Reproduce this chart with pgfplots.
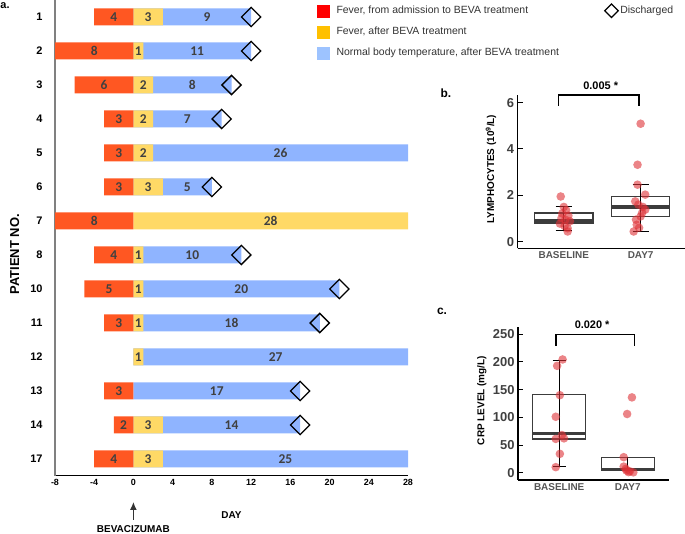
\documentclass[border=0pt]{standalone}
\usepackage{fontspec}
\setmainfont{Liberation Sans}
\newfontfamily\calibri{Carlito}
\usepackage{pgfplots}
\usepackage{pgfplotstable}
\pgfplotsset{compat=1.18}
\usepgfplotslibrary{statistics}
\usetikzlibrary{arrows.meta}

\definecolor{barred}{RGB}{255,87,34}
\definecolor{baryellow}{RGB}{255,217,102}
\definecolor{barblue}{RGB}{143,180,255}
\definecolor{legred}{RGB}{255,0,0}
\definecolor{legorange}{RGB}{255,192,0}
\definecolor{legblue}{RGB}{157,195,255}
\definecolor{numgray}{RGB}{64,64,64}
\definecolor{ptred}{RGB}{222,50,55}
\definecolor{boxgray}{RGB}{60,60,60}
\definecolor{catgray}{RGB}{85,85,85}

% days with fever before BEVA (row 14 = patient 1 ... row 1 = patient 17)
\pgfplotstableread{
pos days
14 4
13 8
12 6
11 3
10 3
9  3
8  8
7  4
6  5
5  3
3  3
2  2
1  4
}\redtab

% days with fever after BEVA
\pgfplotstableread{
pos days
14 3
13 1
12 2
11 2
10 2
9  3
8  28
7  1
6  1
5  1
4  1
2  3
1  3
}\yellowtab

% days with normal temperature (start = day it begins)
\pgfplotstableread{
pos start days
14 3 9
13 1 11
12 2 8
11 2 7
10 2 26
9  3 5
7  1 10
6  1 20
5  1 18
4  1 27
3  0 17
2  3 14
1  3 25
}\bluetab

% discharge day
\pgfplotstableread{
pos day
14 12
13 12
12 10
11 9
9  8
7  11
6  21
5  19
3  17
2  17
}\distab

\pgfplotsset{
  dots/.style={only marks, mark=*, mark size=4.3bp,
    mark options={draw opacity=0, fill=ptred, fill opacity=0.6}},
  box/.style={boxgray, line width=1.3bp, boxplot/draw direction=y,
    boxplot/every median/.style={line width=3.6bp},
    boxplot/every whisker/.style={black}},
  seglabel/.style={only marks, mark=text, text mark={},
    nodes near coords, point meta=explicit symbolic,
    every node near coord/.append style={anchor=center, text=numgray,
        font=\calibri\bfseries\fontsize{13.5}{13.5}\selectfont}},
}

\begin{document}
\begin{tikzpicture}
\path[use as bounding box] (0,0) rectangle (685bp,534bp);

% ---------------- panel a ----------------
\begin{axis}[
    at={(55bp,58bp)}, anchor=south west,
    scale only axis, width=353bp, height=476bp,
    xmin=-8, xmax=28, ymin=0.5, ymax=14.5,
    axis x line*=bottom, axis y line*=left,
    x axis line style={-, black, line width=1bp},
    y axis line style={-, gray, line width=1.3bp},
    xtick={-8,-4,...,28}, ytick={1,...,14},
    yticklabels={17,14,13,12,11,10,8,7,6,5,4,3,2,1},
    tick style={draw=none},
    x tick label style={font=\bfseries\fontsize{9}{9}\selectfont},
    y tick label style={font=\bfseries\fontsize{11}{11}\selectfont, xshift=-9bp},
    /pgf/number format/assume math mode=true,
    xlabel={DAY}, ylabel={PATIENT NO.},
    xlabel style={at={(axis description cs:0.5,0)}, anchor=center, yshift=-39bp,
        font=\bfseries\fontsize{10}{10}\selectfont},
    ylabel style={at={(axis description cs:-0.114,0.466)}, anchor=center,
        font=\bfseries\fontsize{13}{13}\selectfont},
    bar width=0.5,
    legend columns=2, legend cell align=left,
    legend style={at={(axis description cs:0.742,0.992)}, anchor=north west,
        draw=none, fill=none, inner sep=0pt, row sep=7.8bp,
        font=\fontsize{10.5}{12}\selectfont, text=black!80,
        /tikz/every even column/.append style={column sep=42bp}},
]
\addlegendimage{legend image code/.code={\fill[legred] (0bp,-6bp) rectangle (12bp,6bp); \path (17bp,0bp);}}
\addlegendentry{Fever, from admission to BEVA treatment}
\addlegendimage{only marks, mark=square, mark size=4.8bp,
    mark options={rotate=45, draw=black, fill=none, line width=1.2bp}}
\addlegendentry{Discharged}
\addlegendimage{legend image code/.code={\fill[legorange] (0bp,-6bp) rectangle (12bp,6bp); \path (17bp,0bp);}}
\addlegendentry{Fever, after BEVA treatment}
\addlegendimage{empty legend}
\addlegendentry{}
\addlegendimage{legend image code/.code={\fill[legblue] (0bp,-6bp) rectangle (12bp,6bp); \path (17bp,0bp);}}
\addlegendentry{Normal body temperature, after BEVA treatment}
\addlegendimage{empty legend}
\addlegendentry{}

\addplot[xbar, bar shift=0pt, fill=barblue, draw=none]
    table[x expr=\thisrow{start}+\thisrow{days}, y=pos] {\bluetab};
\addplot[xbar, bar shift=0pt, fill=baryellow, draw=none]
    table[x=days, y=pos] {\yellowtab};
\addplot[xbar, bar shift=0pt, fill=barred, draw=none]
    table[x expr=-\thisrow{days}, y=pos] {\redtab};

\addplot[seglabel] table[x expr=-\thisrow{days}/2, y=pos, meta=days] {\redtab};
\addplot[seglabel] table[x expr=\thisrow{days}/2, y=pos, meta=days] {\yellowtab};
\addplot[seglabel] table[x expr=\thisrow{start}+\thisrow{days}/2, y=pos, meta=days] {\bluetab};

\addplot[only marks, mark=square, mark size=6.8bp,
    mark options={rotate=45, draw=black, fill=none, line width=1.3bp}]
    table[x=day, y=pos] {\distab};
\end{axis}

% ---------------- panel b ----------------
\begin{axis}[
    at={(517.7bp,285.7bp)}, anchor=south west,
    scale only axis, width=169bp, height=153.3bp,
    xmin=0.4, xmax=2.6, ymin=-0.285, ymax=6.33, clip=false,
    axis x line*=bottom, axis y line*=left,
    axis line style={-, black, line width=1.3bp},
    xtick={1,2}, xticklabels={BASELINE,DAY7}, ytick={0,2,4,6},
    x tick style={draw=none}, y tick style={black, line width=1bp},
    tick align=inside, major tick length=5bp,
    x tick label style={font=\bfseries\fontsize{10}{10}\selectfont, text=catgray},
    y tick label style={font=\bfseries\fontsize{13}{13}\selectfont, text=numgray},
    /pgf/number format/assume math mode=true,
    ylabel={LYMPHOCYTES (10\textsuperscript{9}/L)},
    ylabel style={at={(axis description cs:-0.158,0.517)}, anchor=center,
        font=\bfseries\fontsize{10}{10}\selectfont},
]
\addplot[box, boxplot prepared={draw position=1, lower whisker=0.47, lower quartile=0.81,
        median=0.92, upper quartile=1.24, upper whisker=1.52,
        box extend=0.76, whisker extend=0.21}] coordinates {};
\addplot[box, boxplot prepared={draw position=2, lower whisker=0.45, lower quartile=1.09,
        median=1.5, upper quartile=1.95, upper whisker=2.46,
        box extend=0.76, whisker extend=0.21}] coordinates {};
\addplot[black, line width=1.3bp] coordinates {(1,0.47) (1,1.52)};
\addplot[black, line width=1.3bp] coordinates {(2,0.45) (2,2.46)};
\addplot[dots] table {
x y
0.96 1.95
1.00 1.50
1.03 1.36
0.98 1.22
1.06 1.12
0.97 1.02
1.02 0.95
1.08 0.88
0.95 0.78
1.01 0.68
1.05 0.58
1.05 0.44
};
\addplot[dots] table {
x y
2.00 5.09
1.96 3.32
1.96 2.46
2.06 2.03
1.93 1.74
1.97 1.60
2.03 1.50
2.06 1.38
2.02 1.25
2.00 1.09
1.94 0.95
1.95 0.73
1.98 0.60
1.91 0.44
};
\addplot[black, line width=1.5bp] coordinates {(0.93,5.86) (0.93,6.33) (1.98,6.33) (1.98,5.86)};
\node[font=\bfseries\fontsize{11}{11}\selectfont] at (axis cs:1.48,6.72) {0.005 *};
\end{axis}

% ---------------- panel c ----------------
\begin{axis}[
    at={(518bp,54bp)}, anchor=south west,
    scale only axis, width=151bp, height=152.7bp,
    xmin=0.4, xmax=2.6, ymin=-13.2, ymax=262.6, clip=false,
    axis x line*=bottom, axis y line*=left,
    axis line style={-, black, line width=1.3bp},
    xtick={1,2}, xticklabels={BASELINE,DAY7}, ytick={0,50,...,250},
    x tick style={draw=none}, y tick style={black, line width=1bp},
    tick align=inside, major tick length=5bp,
    x tick label style={font=\bfseries\fontsize{10}{10}\selectfont, text=catgray},
    y tick label style={font=\bfseries\fontsize{13}{13}\selectfont, text=numgray},
    /pgf/number format/assume math mode=true,
    ylabel={CRP LEVEL (mg/L)},
    ylabel style={at={(axis description cs:-0.24,0.52)}, anchor=center,
        font=\bfseries\fontsize{10}{10}\selectfont},
]
\addplot[box, boxplot prepared={draw position=1, lower whisker=11.3, lower quartile=60.6,
        median=70.7, upper quartile=141.5, upper whisker=203,
        box extend=0.77, whisker extend=0.19}] coordinates {};
\addplot[box, boxplot prepared={draw position=2, lower whisker=3.6, lower quartile=3.6,
        median=6, upper quartile=27.6, upper whisker=27.6,
        box extend=0.77, whisker extend=0}] coordinates {};
\addplot[black, line width=1.3bp] coordinates {(1,11.3) (1,203)};
\addplot[black, line width=1.3bp] coordinates {(2,3.6) (2,27.6)};
\addplot[dots] table {
x y
1.05 204.5
0.97 193
1.01 140
0.95 101
1.04 68
0.95 61
1.07 62
1.01 34
0.95 10
};
\addplot[dots] table {
x y
2.06 136
1.99 106
1.94 28
1.94 11
1.97 7
2.03 2.5
2.08 0.6
1.98 4
2.01 1
};
\addplot[black, line width=1.5bp] coordinates {(0.95,229) (0.95,250) (2.1,250) (2.1,229)};
\node[font=\bfseries\fontsize{11}{11}\selectfont] at (axis cs:1.48,268) {0.020 *};
\end{axis}

% ---------------- annotations ----------------
\node[font=\bfseries\fontsize{11}{11}\selectfont] at (5bp,528bp) {a.};
\node[font=\bfseries\fontsize{12}{12}\selectfont] at (446bp,441bp) {b.};
\node[font=\bfseries\fontsize{12}{12}\selectfont] at (442bp,223bp) {c.};
\draw[-{Latex[length=8bp,width=7bp]}, line width=1.2bp, black!80] (133.4bp,14bp) -- (133.4bp,32bp);
\node[font=\bfseries\fontsize{10}{10}\selectfont] at (133.4bp,5bp) {BEVACIZUMAB};
\end{tikzpicture}
\end{document}
